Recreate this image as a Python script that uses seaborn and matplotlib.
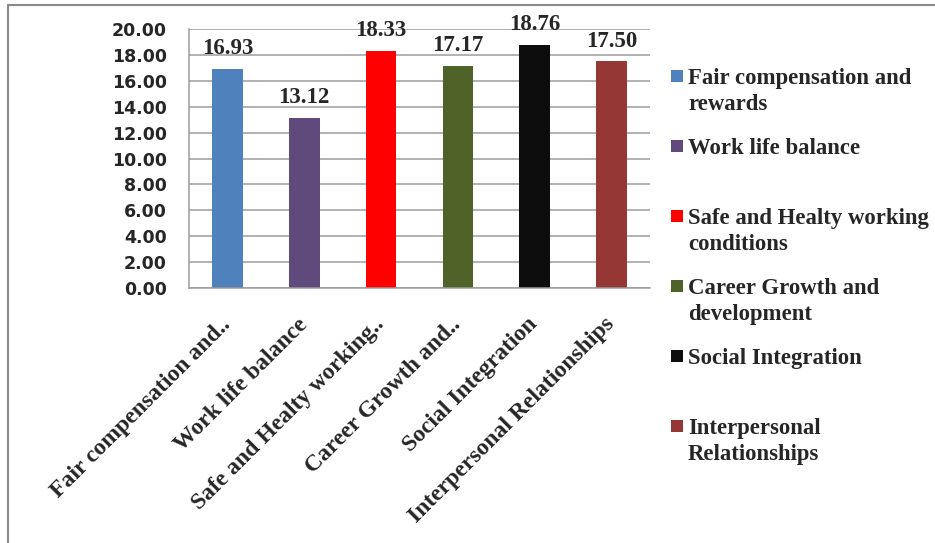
import matplotlib
matplotlib.use("Agg")
import matplotlib.pyplot as plt
from matplotlib.patches import Rectangle
from matplotlib.lines import Line2D
from matplotlib.ticker import FormatStrFormatter, FixedLocator
import seaborn as sns
import pandas as pd

# Quality-of-work-life dimension scores
categories = [
    "Fair compensation and rewards",
    "Work life balance",
    "Safe and Healty working conditions",
    "Career Growth and development",
    "Social Integration",
    "Interpersonal Relationships",
]
tick_labels = [
    "Fair compensation and..",
    "Work life balance",
    "Safe and Healty working..",
    "Career Growth and..",
    "Social Integration",
    "Interpersonal Relationships",
]
legend_labels = [
    "Fair compensation and\nrewards",
    "Work life balance",
    "Safe and Healty working\nconditions",
    "Career Growth and\ndevelopment",
    "Social Integration",
    "Interpersonal\nRelationships",
]
scores = [16.93, 13.12, 18.33, 17.17, 18.76, 17.50]
colors = ["#4F81BD", "#604A7B", "#FF0000", "#4F6228", "#0D0D0D", "#953735"]
y_ticks = [0, 2, 4, 6, 8, 10, 12, 14, 16, 18, 20]

sns.set_style("white")
plt.rcParams["font.family"] = ["Liberation Serif", "DejaVu Serif"]

W, H = 935, 543
fig = plt.figure(figsize=(W / 100, H / 100), dpi=100)


def fx(px):
    return px / W


def fy(py):
    return 1 - py / H


# outer chart frame (left and top edges visible)
frame_kw = dict(color="#8a8a8a", lw=1.5, transform=fig.transFigure)
fig.add_artist(Line2D([fx(8), fx(8)], [fy(5), fy(H + 5)], **frame_kw))
fig.add_artist(Line2D([fx(8), fx(W + 5)], [fy(5), fy(5)], **frame_kw))

ax = fig.add_axes([fx(189), fy(288), fx(650) - fx(189), fy(29) - fy(288)])

df = pd.DataFrame({"category": categories, "score": scores})
sns.barplot(data=df, x="category", y="score", hue="category",
            palette=colors, width=0.4, legend=False, ax=ax,
            saturation=1.0, linewidth=0)

ax.set_xlim(-0.5, len(categories) - 0.5)
ax.set_ylim(0, 20)
ax.set_xlabel("")
ax.set_ylabel("")

grid_color = "#9c9c9c"
ax.set_yticks(y_ticks)
ax.yaxis.set_major_formatter(FormatStrFormatter("%.2f"))
ax.yaxis.grid(True, color=grid_color, lw=1.1)
ax.set_axisbelow(True)
for lab in ax.get_yticklabels():
    lab.set_fontfamily("DejaVu Sans")
    lab.set_fontweight("bold")
    lab.set_fontsize(12.5)
ax.tick_params(axis="y", direction="out", length=5, width=1.1,
               color=grid_color, pad=11)

# category boundary ticks on the x axis
ax.set_xticks(range(len(categories)))
ax.set_xticklabels(tick_labels, rotation=45, ha="right",
                   rotation_mode="anchor", va="center",
                   fontweight="bold", fontsize=17)
ax.xaxis.set_minor_locator(FixedLocator([i - 0.5 for i in range(len(categories) + 1)]))
ax.tick_params(axis="x", which="major", length=0, pad=24)
ax.tick_params(axis="x", which="minor", direction="out", length=5,
               width=1.1, color=grid_color)

for side in ("top", "right"):
    ax.spines[side].set_visible(False)
for side in ("left", "bottom"):
    ax.spines[side].set_color(grid_color)
    ax.spines[side].set_linewidth(1.1)

for cont in ax.containers:
    ax.bar_label(cont, fmt="%.2f", padding=7, fontweight="bold", fontsize=16.5)

# legend entries on the right
for i, (lab, col) in enumerate(zip(legend_labels, colors)):
    base = 84 + 70 * i
    fig.add_artist(Rectangle((fx(671), fy(base - 2)), fx(12), 12 / H,
                             facecolor=col, edgecolor="none",
                             transform=fig.transFigure))
    for k, line in enumerate(lab.split("\n")):
        fig.text(fx(688), fy(base + 26.4 * k), line, ha="left",
                 va="baseline", fontweight="bold", fontsize=16.4)

fig.savefig("out.png", dpi=100)
